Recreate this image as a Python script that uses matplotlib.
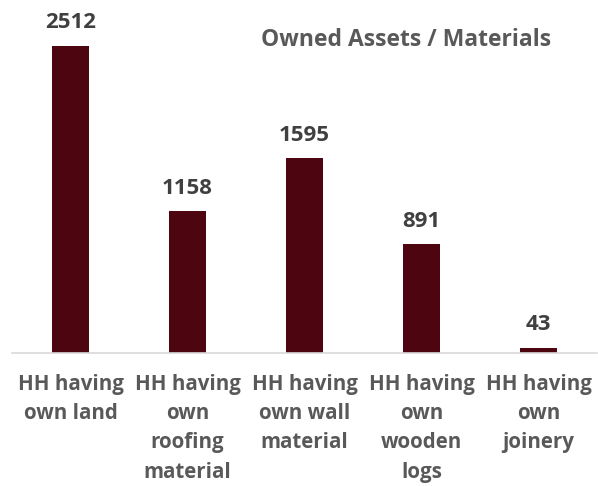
import matplotlib
matplotlib.use("Agg")
import matplotlib.pyplot as plt

# data
categories = ["HH having\nown land", "HH having\nown\nroofing\nmaterial",
              "HH having\nown wall\nmaterial", "HH having\nown\nwooden\nlogs",
              "HH having\nown\njoinery"]
values = [2512, 1158, 1595, 891, 43]

plt.rcParams['font.family'] = ['Open Sans', 'DejaVu Sans']

fig = plt.figure(figsize=(5.98, 4.86), dpi=100)
ax = fig.add_axes([12 / 598, 133 / 486, 585 / 598, 353 / 486])

x = list(range(len(values)))
bars = ax.bar(x, values, width=0.32, color="#4D0610")

for xi, v in zip(x, values):
    ax.annotate(str(v), (xi, v), xytext=(0, 9), textcoords="offset points",
                ha="center", va="bottom", fontsize=16, fontweight="bold",
                color="#404040")

ax.set_xlim(-0.5, len(values) - 0.5)
ax.set_ylim(0, 2888)
ax.set_xticks(x)
ax.set_xticklabels(categories, fontsize=14.8, fontweight="bold",
                   color="#595959", linespacing=1.52, va="top")
ax.tick_params(axis="x", length=0, pad=15)
ax.set_yticks([])

for side in ["top", "right", "left"]:
    ax.spines[side].set_visible(False)
ax.spines["bottom"].set_color("#D9D9D9")
ax.spines["bottom"].set_linewidth(1.2)

fig.text(406 / 598, 1 - 40 / 486, "Owned Assets / Materials", ha="center",
         va="center", fontsize=16.5, fontweight="bold", color="#595959")

fig.savefig("out.png", dpi=100)
